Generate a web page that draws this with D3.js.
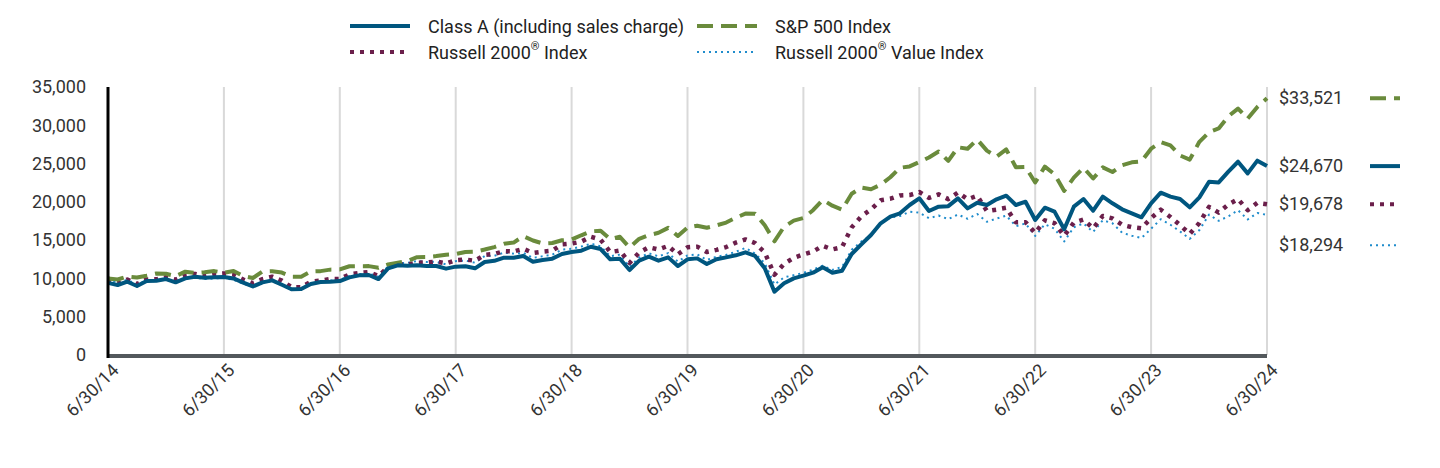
<!DOCTYPE html>
<html><head><meta charset="utf-8">
<script src="https://cdn.jsdelivr.net/npm/d3@7"></script>
<style>
html,body{margin:0;padding:0;background:#fff;}
svg{display:block;font-family:Roboto,"Liberation Sans",sans-serif;}
</style></head>
<body>
<svg id="chart" width="1440" height="468"></svg>
<script>
const tickLabels = ["6/30/14","6/30/15","6/30/16","6/30/17","6/30/18","6/30/19","6/30/20","6/30/21","6/30/22","6/30/23","6/30/24"];
const yTicks = [0,5000,10000,15000,20000,25000,30000,35000];
const seriesNames = ["Class A (including sales charge)","S&P 500 Index","Russell 2000® Index","Russell 2000® Value Index"];
const endLabels = ["$24,670","$33,521","$19,678","$18,294"];

const classA = [9425,
9140,9570,9010,9660,9700,9920,9490,10010,10230,10100,10140,10190,
10000,9460,8950,9490,9750,9180,8580,8620,9270,9530,9580,9660,
10140,10400,10450,9920,11320,11710,11670,11710,11620,11620,11280,11540,
11580,11320,12150,12300,12710,12710,12930,12190,12410,12580,13190,13450,
13620,14140,13840,12500,12580,11100,12320,12840,12320,12750,11620,12500,
12620,11880,12500,12750,13020,13410,12930,11320,8270,9360,10010,10360,
10750,11450,10750,11010,13190,14450,15670,17200,18060,18500,19590,20460,
18810,19370,19440,20460,19150,19890,19590,20330,20810,19590,20020,17630,
19240,18720,16420,19370,20370,18850,20680,19810,19030,18500,17980,19810,
21200,20680,20370,19290,20590,22630,22540,23940,25240,23720,25380,24670];

const sp500 = [10000,
9862,10257,10113,10360,10639,10612,10294,10886,10714,10817,10956,10744,
10970,10308,10054,10903,10936,10763,10229,10216,10909,10951,11148,11177,
11590,11606,11608,11397,11819,12053,12282,12770,12785,12917,13099,13180,
13452,13494,13772,14093,14525,14686,15527,14954,14574,14630,14982,15075,
15636,16146,16238,15127,15436,14042,15167,15654,15958,16604,15550,16646,
16886,16619,16930,17297,17925,18466,18459,16940,14848,16751,17549,17898,
18907,20266,19496,18978,21056,21865,21644,22241,23216,24455,24626,25200,
25800,26584,25348,27125,26938,28145,26690,25892,26852,24511,24555,22529,
24606,23602,21428,23164,24459,23050,24498,23900,24777,25164,25272,26942,
27807,27365,26060,25513,27842,29106,29595,31176,32180,30867,32398,33521];

const russell2000 = [10000,
9395,9861,9264,9876,9878,10159,9832,10416,10597,10327,10562,10649,
10519,9858,9374,9902,10225,9712,8858,8858,9565,9715,9934,9932,
10521,10710,10829,10315,11465,11786,11832,12060,12076,12209,11961,12376,
12467,12308,13076,13190,13570,13516,13869,13332,13504,13620,14447,14550,
14804,15442,15070,13433,13647,12026,13379,14075,13781,14249,13141,14068,
14152,13453,13733,14094,14675,15098,14613,13383,10475,11914,12690,13135,
13502,14262,13786,14074,16668,18110,19021,20206,20408,20837,20881,21283,
20518,20977,20358,21224,20339,20792,18790,18991,19226,17321,17347,15920,
17583,17223,15573,17287,17692,16544,18157,17850,16997,16691,16538,17880,
18977,18028,16966,15813,17244,19351,18598,19649,20352,18919,19869,19678];

const russell2000Value = [10000,
9410,9820,9190,9740,9610,9930,9470,9960,10120,9910,9990,10078,
9810,9300,8935,9455,9660,9140,8490,8580,9310,9545,9720,9818,
10300,10560,10660,10240,11560,12020,12020,12280,12150,12170,11830,12259,
12340,12050,12920,12950,13380,13240,13330,12680,12890,13110,13760,13865,
14160,14540,14200,12900,13110,11530,12730,13270,12890,13310,12210,13000,
13130,12410,12830,13070,13490,13980,13250,11980,9200,10140,10420,10727,
11140,11660,11120,11510,13740,14820,15600,17080,17980,18150,18710,18588,
17870,18210,17750,18340,17790,18420,17400,17820,18200,16830,17170,15562,
17070,16500,14820,16690,17190,16070,17600,17200,15970,15580,15270,16497,
17730,17010,16130,15170,16310,18340,17520,18100,18910,17700,18550,18294];

const colors = ["#00567f","#6a8b3c","#6b1f4b","#1f8ccc"];
const widths = [4,4,4.5,2];
const dashes = [null,"16,8","4,6","2,4"];

const svg = d3.select("#chart");
const x0 = 108, x1 = 1267, yTop = 87, yBot = 355;
const x = d3.scaleLinear().domain([0,120]).range([x0,x1]);
const y = d3.scaleLinear().domain([0,35000]).range([yBot,yTop]);

// vertical gridlines
svg.append("g").selectAll("line").data(d3.range(1,11)).join("line")
  .attr("x1",d=>x(d*12)).attr("x2",d=>x(d*12))
  .attr("y1",yTop).attr("y2",yBot)
  .attr("stroke","#d9d9d9").attr("stroke-width",2);

// y axis labels
const yAxis = d3.axisLeft(y).tickValues(yTicks).tickFormat(d3.format(",")).tickSize(0).tickPadding(22);
const gy = svg.append("g").attr("transform",`translate(${x0},0)`).call(yAxis);
gy.select(".domain").remove();
gy.selectAll("text").attr("font-size",18).attr("fill","#333").attr("font-family","Roboto");

// x axis labels
const xAxis = d3.axisBottom(x).tickValues(d3.range(0,121,12)).tickFormat((d,i)=>tickLabels[i]).tickSize(0);
const gx = svg.append("g").attr("transform",`translate(0,${yBot})`).call(xAxis);
gx.select(".domain").remove();
gx.selectAll("text").attr("font-size",18).attr("fill","#333").attr("font-family","Roboto")
  .attr("text-anchor","end").attr("dy",null).attr("y",0)
  .attr("transform","translate(8,13) rotate(-45)")
  .attr("dominant-baseline","middle");

// series lines
const data = [classA, sp500, russell2000, russell2000Value];
const line = d3.line().x((d,i)=>x(i)).y(d=>y(d));
const order = [3,2,1,0];
order.forEach(k=>{
  svg.append("path").datum(data[k]).attr("d",line)
    .attr("fill","none").attr("stroke",colors[k]).attr("stroke-width",widths[k])
    .attr("stroke-dasharray",dashes[k]).attr("stroke-linejoin","round");
});

// axes lines
svg.append("line").attr("x1",x0).attr("x2",x1).attr("y1",yBot+1).attr("y2",yBot+1)
  .attr("stroke","#53585c").attr("stroke-width",4);
svg.append("line").attr("x1",x0).attr("x2",x0).attr("y1",yTop).attr("y2",yBot+3)
  .attr("stroke","#000").attr("stroke-width",3);

// end labels
const ends = data.map((s,k)=>({k, v:s[s.length-1], yy:y(s[s.length-1])})).sort((a,b)=>a.yy-b.yy);
for(let i=1;i<ends.length;i++){ if(ends[i].yy-ends[i-1].yy<30) ends[i].yy = ends[i-1].yy+41; }
const eg = svg.append("g");
ends.forEach(e=>{
  eg.append("text").attr("x",1279).attr("y",e.yy+1).attr("dominant-baseline","middle")
    .attr("font-size",18).attr("fill","#333").text(endLabels[e.k]);
  eg.append("line").attr("x1",1370).attr("x2",1400).attr("y1",e.yy).attr("y2",e.yy)
    .attr("stroke",colors[e.k]).attr("stroke-width",e.k===3?2:4).attr("stroke-dasharray",dashes[e.k]);
});

// legend
const legendPos = [[350,26],[697,26],[350,52],[697,52]];
const lg = svg.append("g");
seriesNames.forEach((n,k)=>{
  const [lx,ly] = legendPos[k];
  lg.append("line").attr("x1",lx).attr("x2",lx+60).attr("y1",ly).attr("y2",ly)
    .attr("stroke",colors[k]).attr("stroke-width",k===3?2:4).attr("stroke-dasharray",dashes[k]);
  const t = lg.append("text").attr("x",lx+78).attr("y",ly+2).attr("dominant-baseline","middle")
    .attr("font-size",18).attr("fill","#222");
  const parts = n.split("®");
  t.append("tspan").text(parts[0]);
  if(parts.length>1){
    t.append("tspan").attr("font-size",11).attr("dy",-7).text("®");
    t.append("tspan").attr("dy",7).text(parts[1]);
  }
});
</script>
</body></html>
